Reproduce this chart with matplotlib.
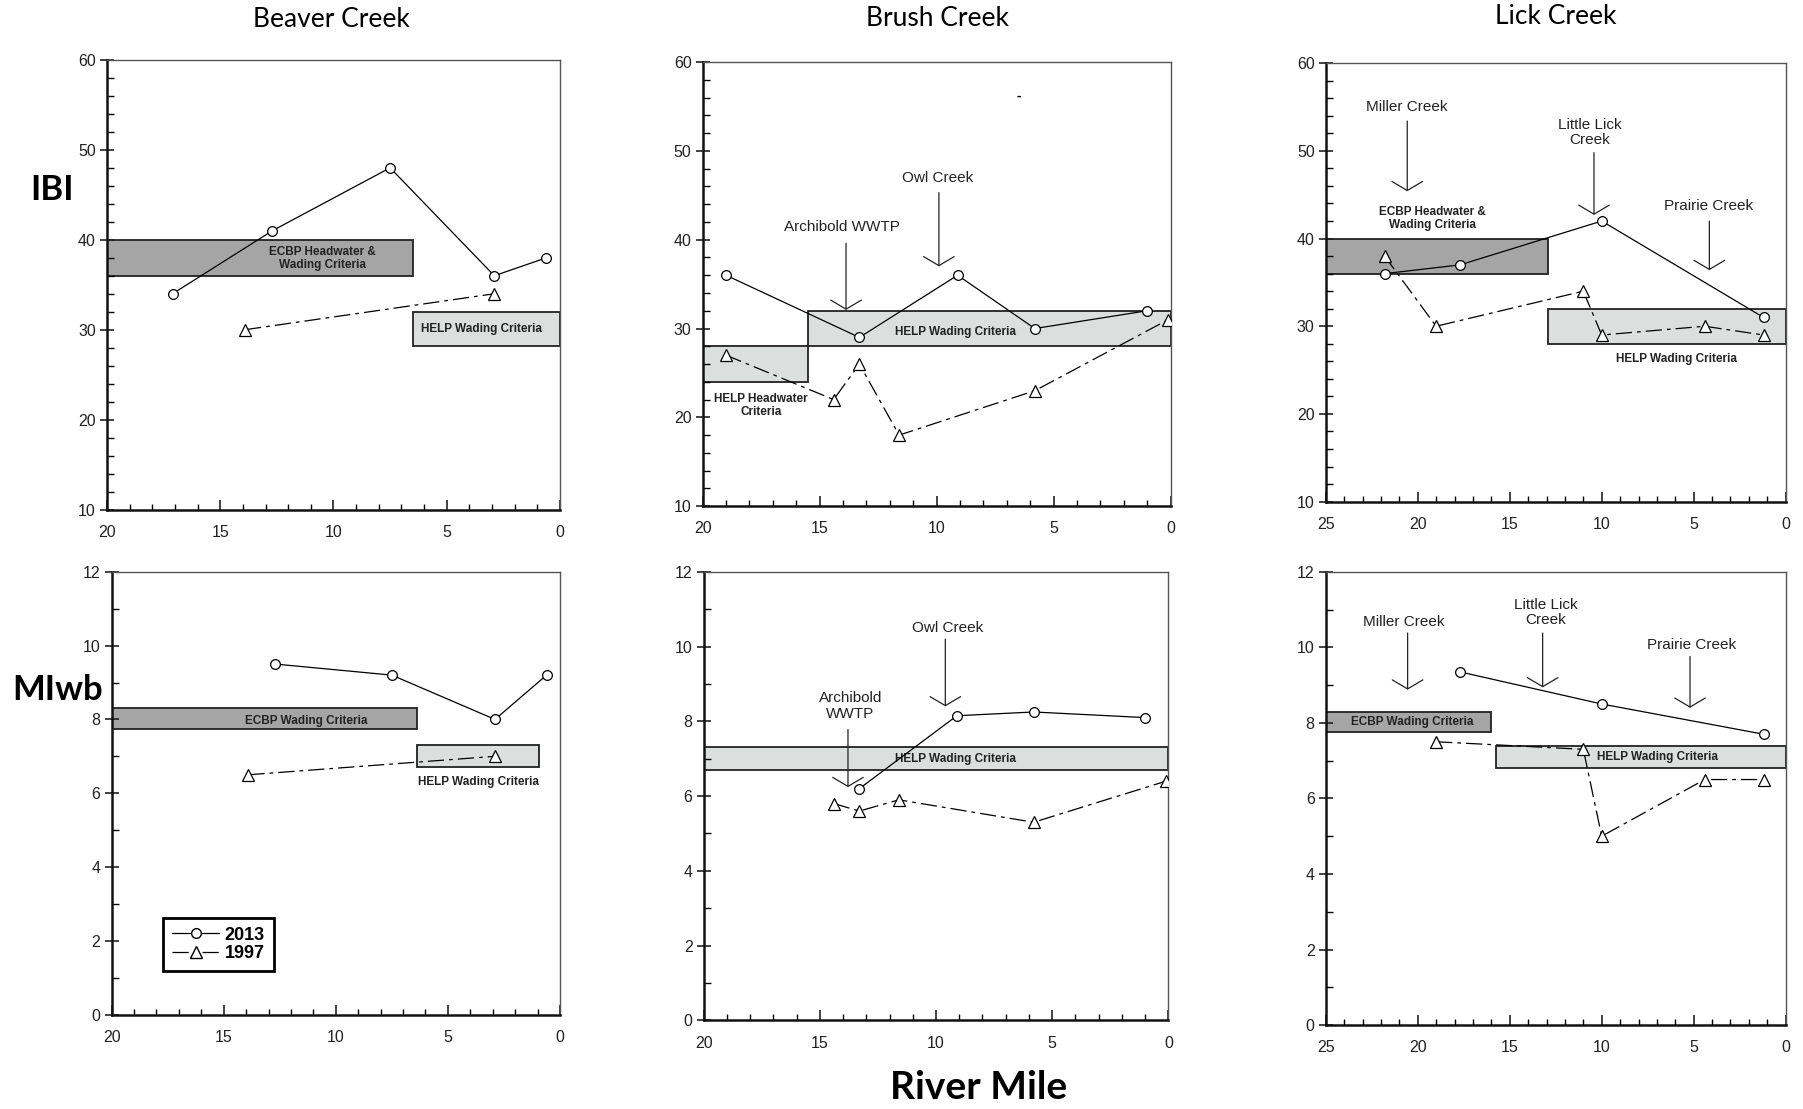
import numpy as np
import matplotlib.pyplot as plt
from matplotlib.patches import Rectangle
from matplotlib.lines import Line2D
from matplotlib.ticker import MultipleLocator

plt.rcParams['font.family'] = ['Liberation Sans', 'DejaVu Sans']

# ---- data (river mile, score) ----
creeks = ['Beaver Creek', 'Brush Creek', 'Lick Creek']
x_max = [20, 20, 25]

# IBI
ibi_rm_13 = [[17.1, 12.7, 7.5, 2.9, 0.6],
             [19.0, 13.3, 9.1, 5.8, 1.0],
             [21.8, 17.7, 10.0, 1.2]]
ibi_13 = [[34, 41, 48, 36, 38],
          [36, 29, 36, 30, 32],
          [36, 37, 42, 31]]
ibi_rm_97 = [[13.9, 2.9],
             [19.0, 14.4, 13.3, 11.6, 5.8, 0.1],
             [21.8, 19.0, 11.0, 10.0, 4.4, 1.2]]
ibi_97 = [[30, 34],
          [27, 22, 26, 18, 23, 31],
          [38, 30, 34, 29, 30, 29]]

# MIwb
miwb_rm_13 = [[12.7, 7.5, 2.9, 0.6],
              [13.3, 9.1, 5.8, 1.0],
              [17.7, 10.0, 1.2]]
miwb_13 = [[9.5, 9.2, 8.0, 9.2],
           [6.2, 8.15, 8.25, 8.1],
           [9.35, 8.5, 7.7]]
miwb_rm_97 = [[13.9, 2.9],
              [14.4, 13.3, 11.6, 5.8, 0.1],
              [19.0, 11.0, 10.0, 4.4, 1.2]]
miwb_97 = [[6.5, 7.0],
           [5.8, 5.6, 5.9, 5.3, 6.4],
           [7.5, 7.3, 5.0, 6.5, 6.5]]

# criteria bands: (from RM, to RM, low, high, kind)
ibi_bands = [[(20, 6.5, 36, 40, 'ECBP'), (6.5, 0, 28.2, 32, 'HELP')],
             [(20, 15.5, 24, 28, 'HELP'), (15.5, 0, 28, 32, 'HELP')],
             [(25, 12.9, 36, 40, 'ECBP'), (12.9, 0, 28, 32, 'HELP')]]
miwb_bands = [[(20, 6.4, 7.75, 8.3, 'ECBP'), (6.4, 0.95, 6.7, 7.3, 'HELP')],
              [(20, 0, 6.7, 7.3, 'HELP')],
              [(25, 16.0, 7.75, 8.3, 'ECBP'), (15.75, 0, 6.8, 7.4, 'HELP')]]

# band labels: (text, RM, value)
ibi_band_labels = [[('ECBP Headwater &\nWading Criteria', 10.5, 37.9), ('HELP Wading Criteria', 3.45, 30.1)],
                   [('HELP Wading Criteria', 9.2, 29.6), ('HELP Headwater\nCriteria', 17.5, 21.3)],
                   [('ECBP Headwater &\nWading Criteria', 19.2, 42.3), ('HELP Wading Criteria', 5.95, 26.3)]]
miwb_band_labels = [[('ECBP Wading Criteria', 11.3, 7.97), ('HELP Wading Criteria', 3.65, 6.3)],
                    [('HELP Wading Criteria', 9.15, 6.99)],
                    [('ECBP Wading Criteria', 20.3, 8.02), ('HELP Wading Criteria', 6.98, 7.1)]]

# tributaries / point sources: (name, RM)
ibi_tribs = [[],
             [('Archibold WWTP', 13.87), ('Owl Creek', 9.9)],
             [('Miller Creek', 20.57), ('Little Lick\nCreek', 10.42), ('Prairie Creek', 4.15)]]
miwb_tribs = [[],
              [('Archibold\nWWTP', 13.79), ('Owl Creek', 9.6)],
              [('Miller Creek', 20.55), ('Little Lick\nCreek', 13.21), ('Prairie Creek', 5.2)]]
# arrow geometry (label y, tail y, tip y, label x offset)
ibi_arrows = [[],
              [(41.4, 39.6, 32.1, 0.17), (46.9, 45.3, 37.0, 0.06)],
              [(55.0, 53.4, 45.4, 0.0), (52.1, 49.8, 42.7, 0.22), (43.7, 42.0, 36.4, 0.04)]]
miwb_arrows = [[],
               [(8.41, 7.78, 6.24, -0.1), (10.51, 10.2, 8.4, -0.09)],
               [(10.68, 10.38, 8.88, 0.19), (10.92, 10.38, 8.94, -0.15), (10.07, 9.76, 8.4, -0.06)]]

band_colors = {'ECBP': '#a5a5a5', 'HELP': '#dddfde'}

pos_ibi = [[0.0593, 0.5405, 0.2513, 0.4055],
           [0.3897, 0.5436, 0.2595, 0.4004],
           [0.7353, 0.5477, 0.2551, 0.3953]]
pos_miwb = [[0.0619, 0.0851, 0.2487, 0.3993],
            [0.3903, 0.0799, 0.2577, 0.4045],
            [0.7353, 0.0757, 0.2551, 0.4087]]
title_xy = [(0.1837, 0.9824), (0.5198, 0.9834), (0.8629, 0.9855)]

fig = plt.figure(figsize=(18.03, 11.09), dpi=100)

dash97 = (0, (13, 4, 3, 4))


def draw_panel(ax, xmax, ylim, ymaj, ymin, rm13, v13, rm97, v97, bands, blabels, tribs, arrows):
    ax.set_xlim(xmax, 0)
    ax.set_ylim(*ylim)
    for x0, x1, lo, hi, kind in bands:
        ax.add_patch(Rectangle((min(x0, x1), lo), abs(x1 - x0), hi - lo,
                               facecolor=band_colors[kind], edgecolor='#222222', lw=1.3, zorder=1))
    for txt, x, y in blabels:
        ax.text(x, y, txt, ha='center', va='center', fontsize=8.5, fontweight='bold',
                color='#222222', linespacing=1.1, zorder=2)
    ax.plot(rm13, v13, color='black', lw=0.9, marker='o', ms=7, mfc='white', mec='black',
            mew=0.9, zorder=4)
    ax.plot(rm97, v97, color='black', lw=0.9, ls=dash97, marker='^', ms=8, mfc='white',
            mec='black', mew=0.9, zorder=4)
    for (name, rm), (ly, tail, tip, dx) in zip(tribs, arrows):
        ax.text(rm + dx, ly, name, ha='center', va='center', fontsize=11, color='#222222',
                linespacing=1.15)
        ax.annotate('', xy=(rm, tip), xytext=(rm, tail),
                    arrowprops=dict(arrowstyle='->,head_length=0.65,head_width=1.1',
                                    lw=0.9, color='#222222', shrinkA=0, shrinkB=0))
    ax.xaxis.set_major_locator(MultipleLocator(5))
    ax.xaxis.set_minor_locator(MultipleLocator(1))
    ax.yaxis.set_major_locator(MultipleLocator(ymaj))
    ax.yaxis.set_minor_locator(MultipleLocator(ymin))
    ax.tick_params(axis='x', which='major', direction='in', length=7, width=1.2,
                   labelsize=11.5, pad=11, colors='#222222')
    ax.tick_params(axis='x', which='minor', direction='in', length=4, width=1.0)
    ax.tick_params(axis='y', which='major', direction='inout', length=10, width=1.2,
                   labelsize=11.5, pad=3, colors='#222222')
    ax.tick_params(axis='y', which='minor', direction='in', length=5, width=1.0)
    for s in ['left', 'bottom']:
        ax.spines[s].set_linewidth(1.8)
        ax.spines[s].set_color('#111111')
    for s in ['top', 'right']:
        ax.spines[s].set_linewidth(1.0)
        ax.spines[s].set_color('#555555')


axes_top = []
for i in range(3):
    ax = fig.add_axes(pos_ibi[i])
    draw_panel(ax, x_max[i], (10, 60), 10, 2, ibi_rm_13[i], ibi_13[i], ibi_rm_97[i], ibi_97[i],
               ibi_bands[i], ibi_band_labels[i], ibi_tribs[i], ibi_arrows[i])
    fig.text(title_xy[i][0], title_xy[i][1], creeks[i], ha='center', va='center',
             family=['Lato', 'DejaVu Sans'], fontsize=19)
    axes_top.append(ax)

axes_bot = []
for i in range(3):
    ax = fig.add_axes(pos_miwb[i])
    draw_panel(ax, x_max[i], (0, 12), 2, 1, miwb_rm_13[i], miwb_13[i], miwb_rm_97[i], miwb_97[i],
               miwb_bands[i], miwb_band_labels[i], miwb_tribs[i], miwb_arrows[i])
    axes_bot.append(ax)

# stray mark in the Brush Creek IBI panel
axes_top[1].text(6.5, 56.2, '-', ha='center', va='center', fontsize=10, fontweight='bold')

# legend
h13 = Line2D([], [], color='black', lw=0.9, marker='o', ms=7, mfc='white', mec='black')
h97 = Line2D([], [], color='black', lw=0.9, ls=dash97, marker='^', ms=8, mfc='white', mec='black')
leg = axes_bot[0].legend([h13, h97], ['2013', '1997'], loc='lower left',
                         bbox_to_anchor=(0.115, 0.0975), frameon=True, fancybox=False,
                         edgecolor='black', framealpha=1, prop=dict(weight='bold', size=13),
                         handlelength=2.6, borderpad=0.5, labelspacing=0.1, handletextpad=0.3,
                         borderaxespad=0)
leg.get_frame().set_linewidth(2)

big = dict(family=['Lato', 'DejaVu Sans'], fontweight='bold')
fig.text(0.029, 0.829, 'IBI', ha='center', va='center', fontsize=25, **big)
fig.text(0.032, 0.378, 'MIwb', ha='center', va='center', fontsize=25, **big)
fig.text(0.5427, 0.0197, 'River Mile', ha='center', va='center', fontsize=28, **big)

fig.savefig('out.png', dpi=100)
